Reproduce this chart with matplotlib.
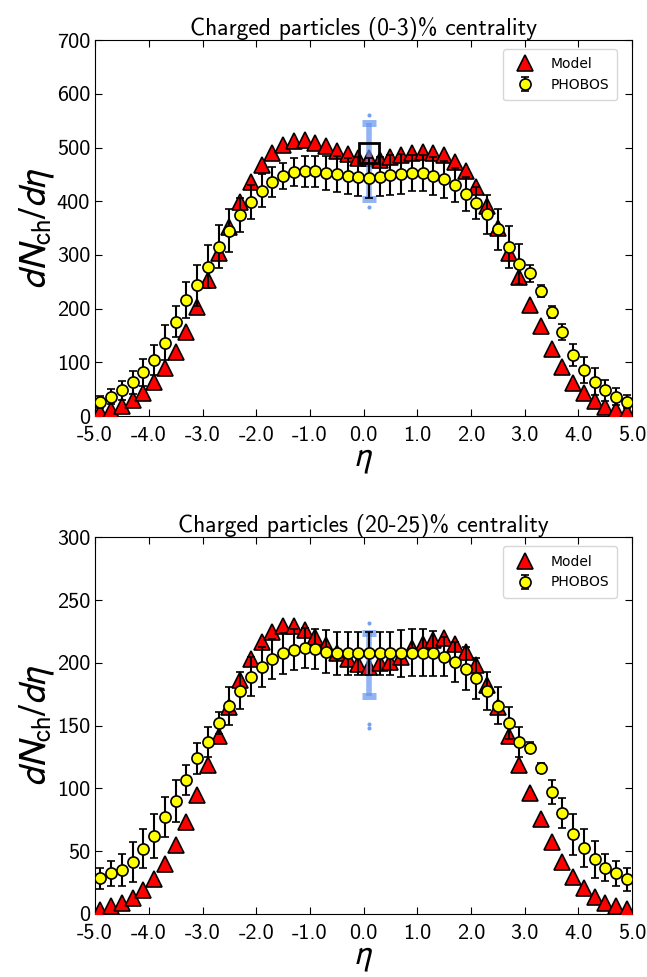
"""Charged-particle pseudorapidity density: model vs PHOBOS, two centrality bins."""

import matplotlib

matplotlib.use("Agg")
import matplotlib.pyplot as plt

plt.rcParams["font.family"] = ["cmss10", "DejaVu Sans"]
plt.rcParams["axes.unicode_minus"] = False
plt.rcParams["mathtext.fontset"] = "stixsans"

# pseudorapidity bins (same for model and data)
eta = [-4.9, -4.7, -4.5, -4.3, -4.1, -3.9, -3.7, -3.5, -3.3, -3.1,
       -2.9, -2.7, -2.5, -2.3, -2.1, -1.9, -1.7, -1.5, -1.3, -1.1,
       -0.9, -0.7, -0.5, -0.3, -0.1, 0.1, 0.3, 0.5, 0.7, 0.9,
       1.1, 1.3, 1.5, 1.7, 1.9, 2.1, 2.3, 2.5, 2.7, 2.9,
       3.1, 3.3, 3.5, 3.7, 3.9, 4.1, 4.3, 4.5, 4.7, 4.9]

# (0-3)% centrality
model_0_3 = [8, 11, 19, 30, 43, 64, 89, 120, 157, 204,
             253, 303, 352, 398, 436, 467, 490, 505, 512, 514,
             509, 502, 494, 488, 480, 480, 477, 482, 486, 490,
             492, 490, 486, 473, 457, 426, 391, 350, 303, 259,
             207, 168, 125, 91, 62, 43, 28, 18, 11, 8]
phobos_0_3 = [27, 36, 48, 63, 82, 105, 137, 176, 216, 244,
              278, 315, 345, 374, 399, 420, 436, 447, 455, 456,
              456, 453, 451, 447, 446, 444, 446, 449, 451, 453,
              453, 447, 441, 430, 413, 397, 376, 348, 315, 283,
              266, 233, 194, 156, 114, 86, 64, 48, 36, 27]
phobos_err_0_3 = [11, 14, 17, 22, 25, 28, 32, 29, 33, 38,
                  40, 40, 40, 32, 32, 30, 28, 25, 26, 29,
                  29, 32, 34, 34, 36, 37, 37, 37, 37, 34,
                  34, 35, 34, 32, 32, 30, 36, 38, 39, 37,
                  16, 11, 12, 15, 20, 24, 25, 20, 16, 12]

# (20-25)% centrality
model_20_25 = [3, 6, 8.5, 12.5, 19, 27.6, 40, 55, 73, 95,
               119, 142, 165, 186, 203, 217, 225, 229, 229, 226,
               221, 214, 208, 203, 199, 197, 200, 201, 205, 212,
               215, 218, 220, 215, 209, 198, 182, 165, 142, 119,
               96.5, 76, 57.5, 41.6, 29.7, 20.4, 13.8, 8.5, 6, 4]
phobos_20_25 = [28.4, 32.4, 35, 41.6, 52, 62, 77, 90, 107, 124,
                137, 152, 165.5, 178, 189, 197, 203, 207.5, 210.6, 212,
                211, 209, 207.5, 207.5, 207.5, 207.5, 207.5, 207.5, 207.5, 208,
                208, 207.5, 204.8, 201, 195.5, 187.6, 177.7, 166, 152, 137,
                132.6, 116, 97, 80.6, 63.4, 52.8, 43.5, 37, 32.4, 27.6]
phobos_err_20_25 = [8.2, 10, 13, 16, 15.5, 17.6, 16, 16.5, 12, 12.5,
                    12, 9, 15, 15, 15.6, 16, 16, 16, 16, 16,
                    16, 17, 17.5, 17.5, 17, 17, 17, 17, 18.6, 18.6,
                    18.6, 18, 15.6, 16, 17, 16, 15, 14.6, 13, 12,
                    4.5, 4, 9.5, 12, 16.5, 15, 14.6, 11, 10, 9.3]

# highlighted mid-rapidity band (centre, half-width, outliers)
band_eta = 0.1
band_0_3 = (475, 70)
band_out_0_3 = [560, 390]
band_20_25 = (199, 25)
band_out_20_25 = [232, 151, 148]
box_0_3 = 490

panels = [
    ("Charged particles (0-3)% centrality", model_0_3, phobos_0_3, phobos_err_0_3,
     band_0_3, band_out_0_3, 700, 100),
    ("Charged particles (20-25)% centrality", model_20_25, phobos_20_25, phobos_err_20_25,
     band_20_25, band_out_20_25, 300, 50),
]

fig = plt.figure(figsize=(6.47, 9.77), dpi=100)
rects = [[0.147, 0.574, 0.830, 0.385], [0.147, 0.0645, 0.830, 0.3855]]

for i, (title, model, data, err, band, band_out, ymax, ystep) in enumerate(panels):
    ax = fig.add_axes(rects[i])
    ax.plot(eta, model, ls="none", marker="^", ms=12, mfc="red", mec="black",
            mew=1.2, zorder=3, label="Model")
    ax.errorbar([band_eta], [band[0]], yerr=[band[1]], fmt="none", ecolor="cornflowerblue",
                elinewidth=4, capsize=5, capthick=5, alpha=0.7, zorder=4)
    ax.plot([band_eta] * len(band_out), band_out, ls="none", marker="o", ms=2,
            color="cornflowerblue", alpha=0.8, zorder=4)
    if i == 0:
        ax.plot([band_eta], [box_0_3], ls="none", marker="s", ms=15, mfc="none",
                mec="black", mew=2, zorder=6)
    ax.errorbar(eta, data, yerr=err, fmt="o", ms=8, mfc="yellow", mec="black", mew=1.2,
                ecolor="black", elinewidth=1.5, capsize=3, capthick=1.5, zorder=5,
                label="PHOBOS")

    ax.set_xlim(-5.0, 5.0)
    ax.set_ylim(0, ymax)
    ax.set_xticks([-5, -4, -3, -2, -1, 0, 1, 2, 3, 4, 5])
    ax.set_xticklabels([f"{v:.1f}" for v in range(-5, 6)])
    ax.set_yticks(range(0, ymax + 1, ystep))
    ax.tick_params(direction="in", top=True, right=True, labelsize=16, length=5)
    ax.tick_params(axis="x", pad=7)
    ax.set_title(title, fontsize=17, pad=4)
    ax.set_xlabel(r"$\eta$", fontsize=25, labelpad=0)
    ax.set_ylabel(r"$dN_{\mathrm{ch}}/d\eta$", fontsize=28, labelpad=0)
    ax.legend(loc="upper right", numpoints=1, borderpad=0.6,
              bbox_to_anchor=(0.985, 0.995),
              prop={"family": "DejaVu Sans", "size": 10})

fig.savefig("out.png", dpi=100)
